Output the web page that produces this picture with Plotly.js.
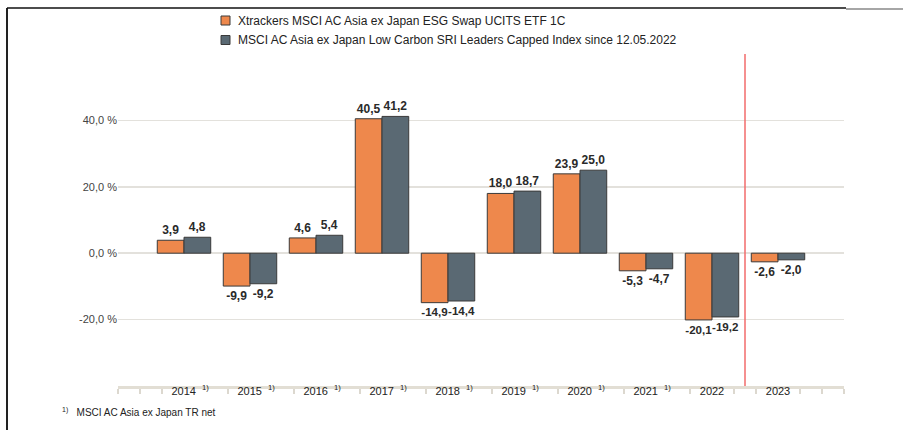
<!DOCTYPE html>
<html>
<head>
<meta charset="utf-8">
<script src="https://cdn.plot.ly/plotly-3.0.1.min.js"></script>
<style>html,body{margin:0;padding:0;background:#fff;}#chart{width:903px;height:430px;}</style>
</head>
<body>
<div id="chart"></div>
<script>
var years = ['2014','2015','2016','2017','2018','2019','2020','2021','2022','2023'];
var footnoteFlags = [true,true,true,true,true,true,true,true,false,false];
var etfName = 'Xtrackers MSCI AC Asia ex Japan ESG Swap UCITS ETF 1C';
var indexName = 'MSCI AC Asia ex Japan Low Carbon SRI Leaders Capped Index since 12.05.2022';
var etfValues = [3.9, -9.9, 4.6, 40.5, -14.9, 18.0, 23.9, -5.3, -20.1, -2.6];
var indexValues = [4.8, -9.2, 5.4, 41.2, -14.4, 18.7, 25.0, -4.7, -19.2, -2.0];
var yTickVals = [-40, -20, 0, 20, 40, 60];
var yTickText = ['', '-20,0 %', '0,0 %', '20,0 %', '40,0 %', ''];
var footnoteText = 'MSCI AC Asia ex Japan TR net';

var FONT = 'Liberation Sans, Arial, sans-serif';
var ETF_COLOR = '#ee884c';
var IDX_COLOR = '#5a6973';
var EDGE = '#3a3a3a';

var xLabels = years.map(function(y, i){
  return footnoteFlags[i] ? '&nbsp;&nbsp;&nbsp;&nbsp;' + y + '&nbsp;&nbsp;<sup>1)</sup>' : y;
});

var tickPos = [-1, -2/3, -1/3, 2/3, 5/3, 8/3, 11/3, 14/3, 17/3, 20/3, 23/3, 25/3, 26/3, 28/3, 29/3, 10];

var common = {
  type: 'bar',
  x: years,
  texttemplate: '%{y:.1f}',
  textposition: 'outside',
  cliponaxis: false,
  textfont: {family: FONT, size: 12, color: '#2a2a2a', weight: 'bold'},
  hoverinfo: 'skip',
  showlegend: false
};
var t1 = Object.assign({}, common, {
  name: etfName, y: etfValues,
  marker: {color: ETF_COLOR, line: {color: EDGE, width: 1}}
});
var t2 = Object.assign({}, common, {
  name: indexName, y: indexValues,
  marker: {color: IDX_COLOR, line: {color: EDGE, width: 1}}
});
var t3 = {type: 'scatter', x: [-1, 10], y: [0, 0], xaxis: 'x2', mode: 'none', showlegend: false, hoverinfo: 'skip'};

// custom legend (paper coordinates)
var legendItems = [
  {name: etfName, color: ETF_COLOR},
  {name: indexName, color: IDX_COLOR}
];
var legRowY = [20.5, 40];
function py(p){ return (386 - p) / 332; }
function px(p){ return (p - 118) / 726; }

var shapes = [
  {type: 'line', xref: 'x2', yref: 'paper', x0: 8.5, x1: 8.5, y0: 0, y1: 1,
   line: {color: '#f26b6b', width: 1.5}},
  {type: 'line', xref: 'paper', yref: 'paper', x0: px(7), x1: px(7), y0: py(8), y1: py(432),
   line: {color: '#222', width: 2}},
  {type: 'line', xref: 'paper', yref: 'paper', x0: px(7), x1: px(846), y0: py(8), y1: py(8),
   line: {color: '#111', width: 1.5}},
  {type: 'line', xref: 'paper', yref: 'paper', x0: px(846), x1: px(905), y0: py(9), y1: py(9),
   line: {color: '#888', width: 1.5}}
];
var annotations = [
  {xref: 'paper', yref: 'paper', x: px(60), y: py(412), xanchor: 'left', yanchor: 'middle',
   showarrow: false, text: '<sup>1)</sup>&nbsp;&nbsp;&nbsp;' + footnoteText,
   font: {family: FONT, size: 10, color: '#222'}}
];
legendItems.forEach(function(it, i){
  var cy = legRowY[i];
  shapes.push({type: 'rect', xref: 'paper', yref: 'paper',
    x0: px(221), x1: px(230), y0: py(cy - 4.5), y1: py(cy + 4.5),
    fillcolor: it.color, line: {color: EDGE, width: 1}});
  annotations.push({xref: 'paper', yref: 'paper', x: px(236), y: py(cy), xanchor: 'left', yanchor: 'middle',
    showarrow: false, text: it.name, font: {family: FONT, size: 12, color: '#222'}});
});

var layout = {
  width: 903, height: 430,
  margin: {l: 118, r: 59, t: 54, b: 44, autoexpand: false},
  paper_bgcolor: '#ffffff', plot_bgcolor: '#ffffff',
  separators: ',.',
  font: {family: FONT, size: 11, color: '#333'},
  barmode: 'group',
  bargap: 0.19,
  bargroupgap: 0,
  showlegend: false,
  xaxis: {
    type: 'category', range: [-1, 10],
    tickvals: years, ticktext: xLabels,
    ticks: '', showgrid: false, zeroline: false, showline: false,
    ticklabelstandoff: -3,
    tickfont: {family: FONT, size: 11, color: '#222'},
    fixedrange: true
  },
  xaxis2: {
    overlaying: 'x', anchor: 'y', side: 'bottom', range: [-1, 10],
    tickvals: tickPos, showticklabels: false,
    ticks: 'outside', ticklen: 5, tickwidth: 1.5, tickcolor: '#dcd8cf',
    showline: true, linecolor: '#e2ded4', linewidth: 3,
    showgrid: false, zeroline: false, fixedrange: true
  },
  yaxis: {
    range: [-40, 60], tickvals: yTickVals, ticktext: yTickText,
    showgrid: true, gridcolor: '#e3e1dc', gridwidth: 1.5,
    zeroline: false, showline: false, ticks: '',
    tickfont: {family: FONT, size: 11, color: '#444'},
    fixedrange: true
  },
  shapes: shapes,
  annotations: annotations
};

Plotly.newPlot('chart', [t1, t2, t3], layout, {displayModeBar: false, staticPlot: true});
</script>
</body>
</html>
